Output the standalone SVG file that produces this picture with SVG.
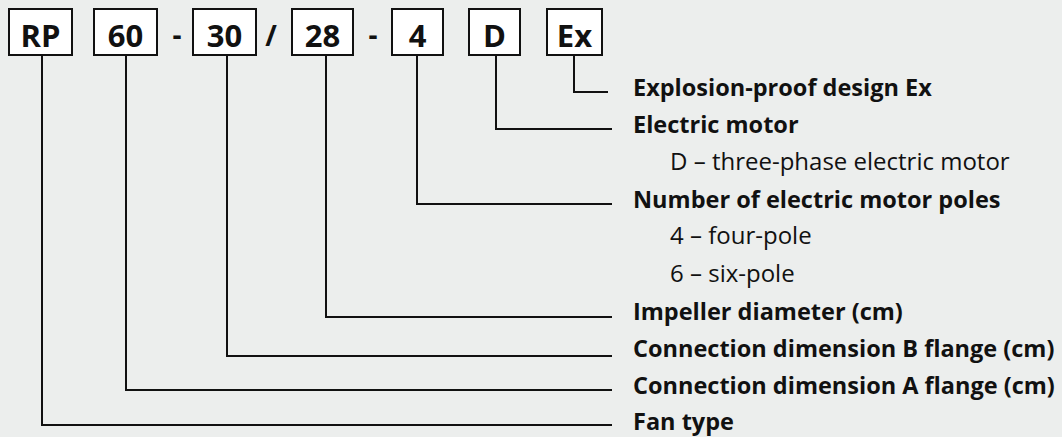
<svg xmlns="http://www.w3.org/2000/svg" width="1062" height="437" viewBox="0 0 1062 437">
<style>
.bg{fill:#eceeed}
.box{fill:#ffffff;stroke:#111;stroke-width:2}
.code{font-family:"Open Sans","Liberation Sans",sans-serif;font-weight:700;font-size:31px;fill:#111;text-anchor:middle}
.sep{font-family:"Open Sans","Liberation Sans",sans-serif;font-weight:700;font-size:28px;fill:#111;text-anchor:middle}
.lbl{font-family:"Open Sans","Liberation Sans",sans-serif;font-weight:700;font-size:23.5px;fill:#111}
.sub{font-family:"Open Sans","Liberation Sans",sans-serif;font-weight:400;font-size:24px;fill:#111}
.con{fill:none;stroke:#111;stroke-width:2}
</style>
<rect class="bg" x="0" y="0" width="1062" height="437"/>
<g id="node-RP"><rect class="box" x="9" y="9" width="63" height="46"/><text class="code" x="40.5" y="47">RP</text></g>
<g id="node-60"><rect class="box" x="94" y="9" width="63" height="46"/><text class="code" x="125.5" y="47">60</text></g>
<g id="sep1"><text class="sep" x="177" y="45">-</text></g>
<g id="node-30"><rect class="box" x="193" y="9" width="63" height="46"/><text class="code" x="224.5" y="47">30</text></g>
<g id="sep2"><text class="sep" x="271" y="46">/</text></g>
<g id="node-28"><rect class="box" x="292" y="9" width="61" height="46"/><text class="code" x="322.5" y="47">28</text></g>
<g id="sep3"><text class="sep" x="373" y="45">-</text></g>
<g id="node-4"><rect class="box" x="392" y="9" width="51" height="46"/><text class="code" x="417.5" y="47">4</text></g>
<g id="node-D"><rect class="box" x="469" y="9" width="51" height="46"/><text class="code" x="494.5" y="47">D</text></g>
<g id="node-Ex"><rect class="box" x="547" y="9" width="55" height="46"/><text class="code" x="574.5" y="47">Ex</text></g>
<g id="connectors">
<path class="con" d="M574 56V92H608"/>
<path class="con" d="M496 56V129H612"/>
<path class="con" d="M417 56V204H612"/>
<path class="con" d="M326 56V317H612"/>
<path class="con" d="M227 56V356H612"/>
<path class="con" d="M126 56V390H612"/>
<path class="con" d="M42 56V425H612"/>
</g>
<g id="labels">
<text class="lbl" x="633" y="96">Explosion-proof design Ex</text>
<text class="lbl" x="633" y="133">Electric motor</text>
<text class="sub" x="670" y="170">D – three-phase electric motor</text>
<text class="lbl" x="633" y="208">Number of electric motor poles</text>
<text class="sub" x="670" y="244">4 – four-pole</text>
<text class="sub" x="670" y="282">6 – six-pole</text>
<text class="lbl" x="633" y="320">Impeller diameter (cm)</text>
<text class="lbl" x="633" y="357">Connection dimension B flange (cm)</text>
<text class="lbl" x="633" y="394">Connection dimension A flange (cm)</text>
<text class="lbl" x="633" y="430">Fan type</text>
</g>
</svg>
